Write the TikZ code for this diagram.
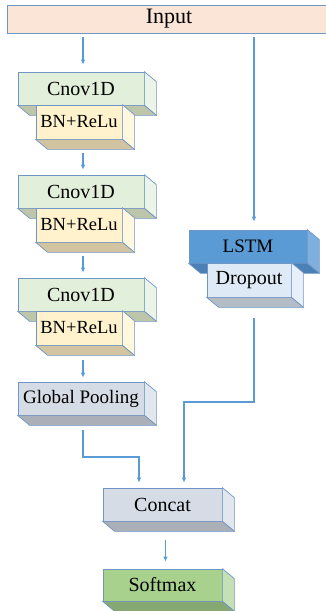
\documentclass[tikz,border=0pt]{standalone}
\usepackage{xcolor}
\usepackage{tikz}
\usetikzlibrary{arrows.meta}
\usepackage{fontspec}
\setmainfont{Liberation Serif}

\definecolor{bordc}{RGB}{112,150,198}
\definecolor{flowc}{RGB}{91,155,213}
\definecolor{inpfill}{RGB}{251,229,214}
\definecolor{cnovf}{RGB}{226,239,218}
\definecolor{cnovs}{RGB}{236,244,231}
\definecolor{cnovb}{RGB}{189,197,170}
\definecolor{bnf}{RGB}{255,242,204}
\definecolor{bns}{RGB}{255,247,222}
\definecolor{bnb}{RGB}{210,196,160}
\definecolor{grayf}{RGB}{214,220,229}
\definecolor{grays}{RGB}{226,231,238}
\definecolor{grayb}{RGB}{171,175,183}
\definecolor{lstmf}{RGB}{91,155,213}
\definecolor{lstms}{RGB}{126,176,223}
\definecolor{lstmb}{RGB}{74,128,181}
\definecolor{dropf}{RGB}{222,235,247}
\definecolor{drops}{RGB}{231,240,249}
\definecolor{dropb}{RGB}{180,188,198}
\definecolor{softf}{RGB}{169,209,142}
\definecolor{softs}{RGB}{197,224,180}
\definecolor{softb}{RGB}{135,168,114}

% side and bottom faces of a slab
\newcommand{\slabfaces}[3]{%
  \filldraw[draw=bordc, line width=0.7pt, fill=#2] (#1.north east) -- ++(12,10) -- ([shift={(12,10)}]#1.south east) -- (#1.south east) -- cycle;
  \filldraw[draw=bordc, line width=0.7pt, fill=#3] (#1.south west) -- ++(12,10) -- ([shift={(12,10)}]#1.south east) -- (#1.south east) -- cycle;
}

\begin{document}
\begin{tikzpicture}[x=1pt, y=-1pt,
  slab/.style={draw=bordc, line width=0.7pt, inner sep=0pt, font=\fontsize{20}{23}\selectfont},
  flow/.style={draw=flowc, line width=1.1pt, -{Latex[length=5pt,width=4.5pt]}}]
\useasboundingbox (0,0) rectangle (325,611);

% Input
\node[slab, fill=inpfill, minimum width=324pt, minimum height=28pt, font=\fontsize{22}{25}\selectfont] (inp) at (169,19) {Input};

% Conv blocks
\foreach \i/\y in {1/72, 2/175, 3/278} {
  \node[slab, fill=cnovf, minimum width=126pt, minimum height=33pt] (c\i) at (81,\y+16.5) {Cnov1D};
  \slabfaces{c\i}{cnovs}{cnovb}
  \node[slab, fill=bnf, minimum width=86pt, minimum height=34pt, font=\fontsize{18.5}{21}\selectfont] (bn\i) at (79,\y+50) {BN+ReLu};
  \slabfaces{bn\i}{bns}{bnb}
}

% Global pooling
\node[slab, fill=grayf, minimum width=126pt, minimum height=33pt, font=\fontsize{19}{22}\selectfont] (gp) at (81,398.5) {Global Pooling};
\slabfaces{gp}{grays}{grayb}

% LSTM branch
\node[slab, fill=lstmf, minimum width=118pt, minimum height=33pt, font=\fontsize{19}{22}\selectfont] (lstm) at (248,246.5) {LSTM};
\slabfaces{lstm}{lstms}{lstmb}
\node[slab, fill=dropf, minimum width=84pt, minimum height=34pt] (drop) at (249,280) {Dropout};
\slabfaces{drop}{drops}{dropb}

% Concat and softmax
\node[slab, fill=grayf, minimum width=119pt, minimum height=33pt] (cc) at (162.5,504.5) {Concat};
\slabfaces{cc}{grays}{grayb}
\node[slab, fill=softf, minimum width=119pt, minimum height=32pt] (sm) at (162.5,585) {Softmax};
\slabfaces{sm}{softs}{softb}

% Connectors
\coordinate (j1) at (139,457);
\coordinate (j2) at (254,402);
\coordinate (j3) at (184,402);
\draw[flow, shorten <=4pt, shorten >=7pt] ([xshift=2pt]inp.south -| c1.north) -- ([xshift=2pt]c1.north);
\foreach \i/\j in {1/2, 2/3}
  \draw[flow, shorten <=14pt, shorten >=5pt] ([xshift=2pt]bn\i.south -| c\j.north) -- ([xshift=2pt]c\j.north);
\draw[flow, shorten <=15pt, shorten >=4pt] ([xshift=2pt]bn3.south -| gp.north) -- ([xshift=2pt]gp.north);
\draw[flow, shorten <=4pt, shorten >=8pt] (inp.south -| j2) -- (lstm.north -| j2);
\draw[flow, shorten >=5pt] ([xshift=2pt, yshift=-15pt]gp.south) |- (j1) -- (j1 |- cc.north);
\draw[flow, shorten >=5pt] ([yshift=-21pt]drop.south -| j2) -- (j2) -- (j3) -- (j3 |- cc.north);
\draw[flow, shorten <=19pt, shorten >=7pt] ([xshift=3pt]cc.south) -- ([xshift=3pt]sm.north);
\end{tikzpicture}
\end{document}
